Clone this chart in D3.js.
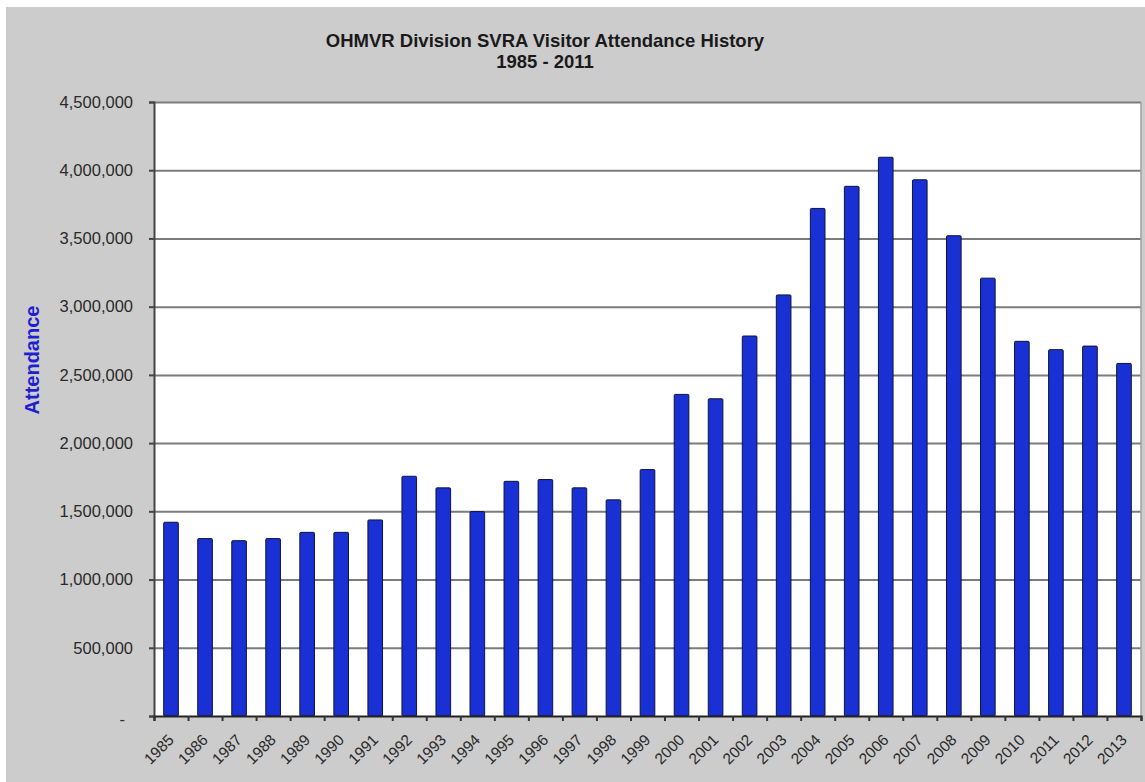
<!DOCTYPE html>
<html>
<head>
<meta charset="utf-8">
<script src="https://cdn.jsdelivr.net/npm/d3@7/dist/d3.min.js"></script>
<style>
  html, body { margin: 0; padding: 0; background: #ffffff; }
  svg { display: block; }
  text { font-family: Arial, "Liberation Sans", Helvetica, sans-serif; }
</style>
</head>
<body>
<svg id="chart" width="1145" height="782"></svg>
<script>
const years = [1985,1986,1987,1988,1989,1990,1991,1992,1993,1994,1995,1996,1997,1998,1999,
  2000,2001,2002,2003,2004,2005,2006,2007,2008,2009,2010,2011,2012,2013];
const attendance = [1420000,1300000,1285000,1300000,1346000,1346000,1437000,1757000,1672000,1498000,
  1720000,1733000,1672000,1584000,1806000,2357000,2325000,2785000,3086000,3720000,
  3882000,4095000,3930000,3520000,3209000,2746000,2685000,2711000,2584000];
const yTicks = [0,500000,1000000,1500000,2000000,2500000,3000000,3500000,4000000,4500000];
const titleLines = ["OHMVR Division SVRA Visitor Attendance History", "1985 - 2011"];
const yLabel = "Attendance";

const svg = d3.select("#chart");
const W = 1145, H = 782;
const plot = {left: 154, right: 1141, top: 102, bottom: 716};

// background
svg.append("rect").attr("x", 6).attr("y", 7).attr("width", W - 6).attr("height", H - 7).attr("fill", "#cccccc");
svg.append("rect").attr("x", plot.left).attr("y", plot.top)
  .attr("width", plot.right - plot.left).attr("height", plot.bottom - plot.top).attr("fill", "#ffffff");

const x = d3.scaleBand().domain(years).range([plot.left, plot.right]).paddingInner(0.57).paddingOuter(0.285);
const xIdx = d3.scaleLinear().domain([0, years.length]).range([plot.left, plot.right]);
const y = d3.scaleLinear().domain([0, 4500000]).range([plot.bottom, plot.top]);

// gridlines
const grid = svg.append("g").attr("transform", `translate(${plot.left},0)`)
  .call(d3.axisLeft(y).tickValues(yTicks.slice(1)).tickSize(-(plot.right - plot.left)).tickFormat(""));
grid.select(".domain").remove();
grid.selectAll("line").attr("stroke", "#7c7c7c").attr("stroke-width", 2);

// right border
svg.append("line").attr("x1", plot.right).attr("x2", plot.right).attr("y1", plot.top).attr("y2", plot.bottom)
  .attr("stroke", "#a0a0a0").attr("stroke-width", 1.5);

// bars
svg.append("g").selectAll("rect").data(years).join("rect")
  .attr("x", (d) => x(d))
  .attr("y", (d, i) => y(attendance[i]))
  .attr("width", x.bandwidth())
  .attr("height", (d, i) => plot.bottom - y(attendance[i]))
  .attr("fill", "#1830d4")
  .attr("stroke", "#10143a")
  .attr("stroke-width", 1)
  .attr("rx", 1);

// y axis
const fmt = d3.format(",");
const yAxis = svg.append("g").attr("transform", `translate(${plot.left},0)`)
  .call(d3.axisLeft(y).tickValues(yTicks).tickSize(5).tickPadding(16)
    .tickFormat((d) => d === 0 ? "-" : fmt(d)));
yAxis.select(".domain").attr("stroke", "#444").attr("stroke-width", 2);
yAxis.selectAll("line").attr("stroke", "#444").attr("stroke-width", 2);
yAxis.selectAll("text").attr("fill", "#2a2a2a").attr("font-size", 16.5);
yAxis.selectAll("text").filter((d) => d === 0).attr("dx", -8).attr("dy", "0.5em");

// x axis boundary ticks
const xAxis = svg.append("g").attr("transform", `translate(0,${plot.bottom})`)
  .call(d3.axisBottom(xIdx).tickValues(d3.range(years.length + 1)).tickSize(5).tickFormat(""));
xAxis.select(".domain").attr("stroke", "#222").attr("stroke-width", 2);
xAxis.selectAll("line").attr("stroke", "#333").attr("stroke-width", 2);

// x labels
svg.append("g").selectAll("text").data(years).join("text")
  .attr("transform", (d) => `translate(${x(d) + x.bandwidth() / 2},${plot.bottom + 21}) rotate(-45)`)
  .attr("text-anchor", "end")
  .attr("dy", "0.35em")
  .attr("font-size", 15.5)
  .attr("fill", "#2a2a2a")
  .text((d) => d);

// title
svg.append("text").attr("x", 545).attr("y", 47).attr("text-anchor", "middle")
  .attr("font-size", 18.5).attr("font-weight", "bold").attr("fill", "#1a1a1a").text(titleLines[0]);
svg.append("text").attr("x", 545).attr("y", 68).attr("text-anchor", "middle")
  .attr("font-size", 18.5).attr("font-weight", "bold").attr("fill", "#1a1a1a").text(titleLines[1]);

// y label
svg.append("text").attr("transform", `translate(39,360) rotate(-90)`)
  .attr("text-anchor", "middle").attr("font-size", 20).attr("font-weight", "bold")
  .attr("fill", "#1f1fd0").text(yLabel);
</script>
</body>
</html>
